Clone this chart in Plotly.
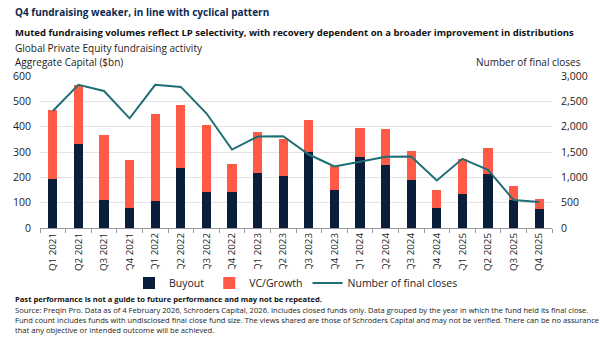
import plotly.graph_objects as go

quarters = ["Q1 2021","Q2 2021","Q3 2021","Q4 2021","Q1 2022","Q2 2022","Q3 2022","Q4 2022",
            "Q1 2023","Q2 2023","Q3 2023","Q4 2023","Q1 2024","Q2 2024","Q3 2024","Q4 2024",
            "Q1 2025","Q2 2025","Q3 2025","Q4 2025"]
totals = [466, 565, 366, 269, 450, 487, 407, 251, 379, 350, 425, 244, 395, 391, 304, 150, 272, 314, 165, 115]
buyout = [195, 331, 110, 79, 105, 236, 144, 144, 219, 207, 300, 150, 280, 248, 188, 80, 134, 213, 109, 76]
vc_growth = [t - b for t, b in zip(totals, buyout)]
closes = [2310, 2825, 2705, 2165, 2825, 2785, 2264, 1549, 1805, 1811, 1450, 1214, 1306, 1404, 1411, 938, 1365, 1148, 551, 512]

NAVY = "#0a1e3c"
CORAL = "#ff5a45"
TEAL = "#1d6f74"
FONT = "Open Sans"

fig = go.Figure()
fig.add_trace(go.Bar(x=quarters, y=buyout, name="Buyout", marker_color=NAVY, marker_line_width=0))
fig.add_trace(go.Bar(x=quarters, y=vc_growth, name="VC/Growth", marker_color=CORAL, marker_line_width=0))
fig.add_trace(go.Scatter(x=quarters, y=closes, name="Number of final closes", mode="lines",
                         line=dict(color=TEAL, width=2), yaxis="y2"))

fig.update_layout(
    width=600, height=345,
    margin=dict(l=40, r=43, t=76, b=117),
    barmode="stack", bargap=0.64,
    paper_bgcolor="white", plot_bgcolor="white",
    font=dict(family=FONT, size=10, color="#222"),
    xaxis=dict(tickangle=-90, ticks="outside", ticklen=4, tickcolor="#999",
               showline=True, linecolor="#999", linewidth=1, tickson="boundaries",
               tickfont=dict(size=9.8, color="#222"), showgrid=False),
    yaxis=dict(range=[0, 600], dtick=100, showgrid=True, gridcolor="#e3e3e3", gridwidth=1,
               zeroline=False, tickfont=dict(size=10.5, color="#222"), ticks="", ticklabelstandoff=8),
    yaxis2=dict(range=[0, 3000], dtick=500, overlaying="y", side="right", showgrid=False,
                zeroline=False, tickformat=",", tickfont=dict(size=10.5, color="#222"), ticklabelstandoff=8),
    legend=dict(orientation="h", x=0.5, xanchor="center", y=(228 - 283) / 152, yanchor="middle",
                font=dict(size=10.5, color="#222"), traceorder="normal", itemwidth=30),
    showlegend=True,
)

anns = [
    dict(text="<b>Q4 fundraising weaker, in line with cyclical pattern</b>", x=13, y=12, size=10, color="#0b2a4f"),
    dict(text="<b>Muted fundraising volumes reflect LP selectivity, with recovery dependent on a broader improvement in distributions</b>", x=13, y=33, size=9.5, color="#111"),
    dict(text="Global Private Equity fundraising activity", x=13, y=48, size=10, color="#222"),
    dict(text="Aggregate Capital ($bn)", x=13, y=62, size=10, color="#222"),
    dict(text="<b>Past performance is not a guide to future performance and may not be repeated.</b>", x=13, y=299, size=7.6, color="#111"),
    dict(text="Source: Preqin Pro. Data as of 4 February 2026, Schroders Capital, 2026. Includes closed funds only. Data grouped by the year in which the fund held its final close.", x=13, y=310, size=7.6, color="#222"),
    dict(text="Fund count includes funds with undisclosed final close fund size. The views shared are those of Schroders Capital and may not be verified. There can be no assurance", x=13, y=320, size=7.6, color="#222"),
    dict(text="that any objective or intended outcome will be achieved.", x=13, y=330, size=7.6, color="#222"),
]
for a in anns:
    fig.add_annotation(text=a["text"], xref="paper", yref="paper",
                       x=(a["x"] - 40) / 517, y=(228 - a["y"]) / 152,
                       xanchor="left", yanchor="middle", showarrow=False,
                       font=dict(family=FONT, size=a["size"], color=a["color"]))
fig.add_annotation(text="Number of final closes", xref="paper", yref="paper",
                   x=(588 - 40) / 517, y=(228 - 62) / 152, xanchor="right", yanchor="middle",
                   showarrow=False, font=dict(family=FONT, size=10, color="#222"))

fig.write_html("out.html")
